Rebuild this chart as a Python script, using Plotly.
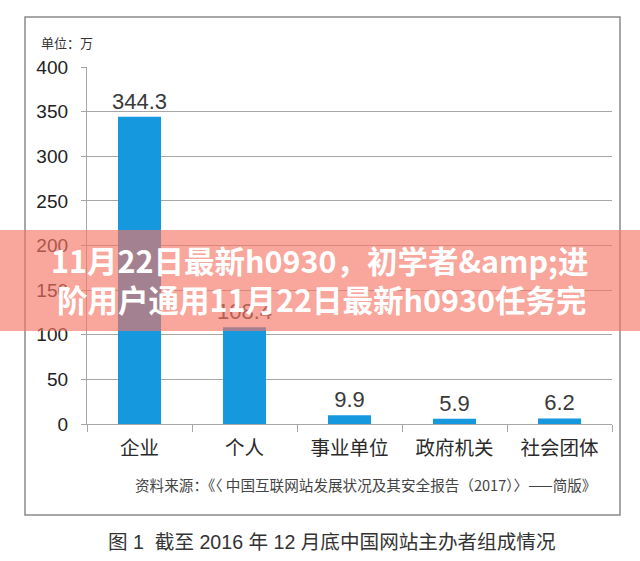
import plotly.graph_objects as go

categories = ["企业", "个人", "事业单位", "政府机关", "社会团体"]
values = [344.3, 108.4, 9.9, 5.9, 6.2]
y_ticks = [0, 50, 100, 150, 200, 250, 300, 350, 400]

W, H = 640, 561
L, R, T, B = 87, 28, 67, 137
PW, PH = W - L - R, H - T - B


def px(x):
    return (x - L) / PW


def py(y):
    return (H - B - y) / PH


CJK = "Liberation Sans, Noto Sans CJK SC, sans-serif"
GRID = "#a6a6a6"

fig = go.Figure()
fig.add_trace(go.Bar(
    x=categories, y=values, width=0.41,
    marker=dict(color="#1598de", line=dict(width=0)),
    text=[f"{v:.1f}" for v in values], textposition="outside",
    constraintext="none",
    textfont=dict(size=22, color="#3a3a3a", family=CJK),
    cliponaxis=False,
))

fig.update_layout(
    width=W, height=H,
    margin=dict(l=L, r=R, t=T, b=B),
    paper_bgcolor="white", plot_bgcolor="white",
    showlegend=False,
    bargap=0.59,
    xaxis=dict(
        type="category", showline=True, linecolor=GRID, linewidth=1.3,
        ticks="outside", tickson="boundaries", ticklen=7, tickcolor=GRID, tickwidth=1.3,
        tickfont=dict(size=19.5, color="#2a2a2a", family=CJK),
        ticklabelstandoff=6,
        showgrid=False,
    ),
    yaxis=dict(
        range=[0, 400], tickvals=y_ticks, showline=True, linecolor=GRID, linewidth=1.3,
        ticks="outside", ticklen=5, tickcolor=GRID, tickwidth=1.3,
        showgrid=True, gridcolor=GRID, gridwidth=1.3, zeroline=False,
        tickfont=dict(size=19, color="#222222", family=CJK),
        ticklabelstandoff=9,
    ),
    font=dict(family=CJK),
)

# outer frame
fig.add_shape(type="rect", xref="paper", yref="paper",
              x0=px(25), x1=px(620), y0=py(515), y1=py(17),
              line=dict(color="#8a8a8a", width=1.5), layer="below")

fig.add_annotation(text="单位：万", xref="paper", yref="paper",
                   x=px(39), y=py(42), xanchor="left", yanchor="middle",
                   showarrow=False, font=dict(size=13, color="#333333", family="Noto Sans CJK SC"))

fig.add_annotation(text="资料来源：《〈 中国互联网站发展状况及其安全报告（2017）〉——简版》",
                   xref="paper", yref="paper", x=px(365), y=py(484),
                   xanchor="center", yanchor="middle", showarrow=False,
                   font=dict(size=14.6, color="#444444", family="Noto Sans CJK SC"))

fig.add_annotation(text="图 1  截至 2016 年 12 月底中国网站主办者组成情况",
                   xref="paper", yref="paper", x=px(331), y=py(542),
                   xanchor="center", yanchor="middle", showarrow=False,
                   font=dict(size=19.6, color="#333333", family=CJK))

# overlay banner
fig.add_shape(type="rect", xref="paper", yref="paper",
              x0=px(0), x1=px(640), y0=py(331), y1=py(230),
              fillcolor="rgba(245,116,100,0.64)", line=dict(width=0), layer="above")

banner_lines = ["11月22日最新h0930，初学者&amp;amp;进", "阶用户通用11月22日最新h0930任务完"]
for txt, yy, xx in zip(banner_lines, [260, 299], [320, 321]):
    fig.add_annotation(text=f"<b>{txt}</b>", xref="paper", yref="paper",
                       x=px(xx), y=py(yy), xanchor="center", yanchor="middle",
                       showarrow=False,
                       font=dict(size=30.5, color="white", family="Noto Sans CJK SC"))

fig.write_html("out.html")
